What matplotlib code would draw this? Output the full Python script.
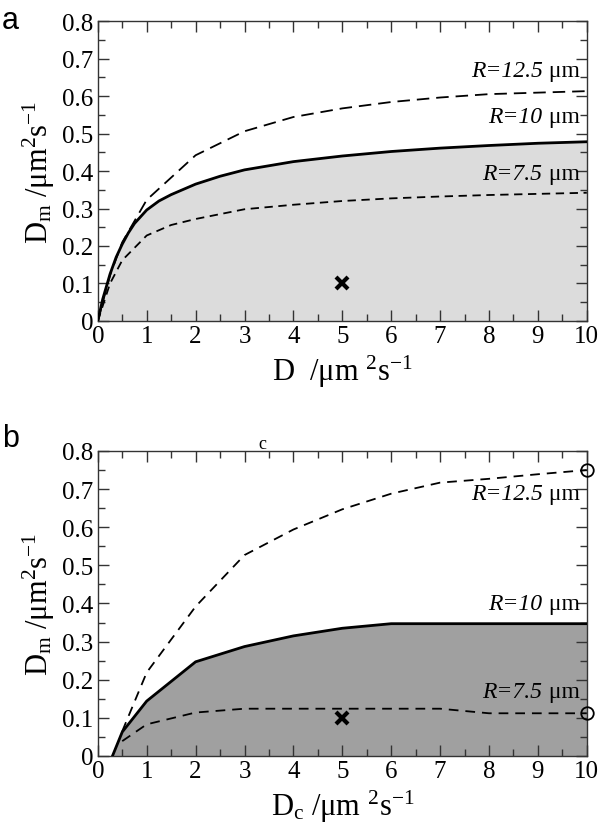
"""Two-panel D_m vs D phase diagram (panels a and b)."""

import matplotlib
matplotlib.use("Agg")
import matplotlib.pyplot as plt
from matplotlib.ticker import MultipleLocator

SERIF = ["Liberation Serif", "DejaVu Serif"]

matplotlib.rcParams.update({
    "font.family": SERIF,
    "mathtext.fontset": "custom",
    "mathtext.rm": "Liberation Serif",
    "mathtext.it": "Liberation Serif:italic",
    "axes.linewidth": 1.0,
    "lines.scale_dashes": False,
})

# ---------------------------------------------------------------------------
# data
# ---------------------------------------------------------------------------
# panel a (smooth curves)
a_D = [0, 0.1, 0.25, 0.375, 0.5, 0.625, 0.75, 1, 1.25, 1.5, 2, 2.5, 3,
       4, 5, 6, 7, 8, 9, 10]
a_R10 = [0, 0.058, 0.125, 0.17, 0.205, 0.235, 0.26, 0.296, 0.32, 0.337,
         0.365, 0.386, 0.403, 0.425, 0.44, 0.452, 0.461, 0.468, 0.474, 0.478]

a_R125_D = [0, 0.25, 0.5, 1, 2, 3, 4, 5, 6, 7, 8, 9, 10]
a_R125 = [0, 0.122, 0.21, 0.323, 0.442, 0.506, 0.544, 0.567, 0.584,
          0.596, 0.605, 0.609, 0.613]

a_R75_D = [0, 0.25, 0.5, 1, 1.5, 2, 2.5, 3, 4, 5, 6, 7, 8, 9, 10]
a_R75 = [0, 0.1, 0.162, 0.228, 0.256, 0.272, 0.285, 0.298, 0.31, 0.32, 0.327,
         0.332, 0.336, 0.339, 0.342]

# panel b (piecewise)
b_R10_D = [0.3, 0.5, 1, 2, 3, 4, 5, 6, 7, 8, 9, 10]
b_R10 = [0, 0.063, 0.144, 0.247, 0.287, 0.315, 0.335, 0.347, 0.347,
         0.347, 0.347, 0.347]

b_R125_D = [0.5, 1, 2, 3, 4, 5, 6, 7, 8, 9, 10]
b_R125 = [0.065, 0.219, 0.392, 0.527, 0.594, 0.647, 0.688, 0.717,
          0.727, 0.739, 0.75]

b_R75_D = [0.5, 1, 2, 3, 4, 5, 6, 7, 8, 9, 10]
b_R75 = [0.039, 0.083, 0.114, 0.124, 0.124, 0.124, 0.124, 0.124,
         0.112, 0.112, 0.112]

cross_pt = (5, 0.1)
b_open_D = [10, 10]
b_open_Dm = [0.75, 0.112]

r_values = ["12.5", "10", "7.5"]
a_label_y = [0.668, 0.545, 0.393]
b_label_y = [0.688, 0.40, 0.17]

x_ticks = [0, 1, 2, 3, 4, 5, 6, 7, 8, 9, 10]
y_ticks = [0, 0.1, 0.2, 0.3, 0.4, 0.5, 0.6, 0.7, 0.8]
y_ticklabels = ["0", "0.1", "0.2", "0.3", "0.4", "0.5", "0.6", "0.7", "0.8"]

YLABEL = r"D$_\mathregular{m}$ /μm$^\mathregular{2}$s$^\mathregular{-1}$"


def r_label(ax, y, val):
    um = ax.text(9.85, y, " μm", ha="right", va="center", fontsize=17,
                 family=SERIF, zorder=5)
    ax.annotate(f"R={val}", xy=(0, 0.5), xycoords=um, ha="right", va="center",
                fontsize=17, family=SERIF, style="italic", zorder=5)


def style_axes(ax):
    ax.set_xlim(0, 10)
    ax.set_ylim(0, 0.8)
    ax.set_xticks(x_ticks)
    ax.set_xticklabels([str(t) for t in x_ticks], family=SERIF)
    ax.set_yticks(y_ticks)
    ax.set_yticklabels(y_ticklabels, family=SERIF)
    ax.xaxis.set_minor_locator(MultipleLocator(0.5))
    ax.yaxis.set_minor_locator(MultipleLocator(0.05))
    ax.tick_params(which="both", direction="in", top=True, right=True,
                   labelsize=18, width=1.0, color="#333333", pad=3)
    ax.tick_params(which="major", length=8)
    ax.tick_params(which="minor", length=5)
    for s in ax.spines.values():
        s.set_color("#333333")
    ax.set_ylabel(YLABEL, fontsize=22, labelpad=4)


def panel_a(ax):
    ax.fill_between(a_D, 0, a_R10, color="#dcdcdc", lw=0, zorder=1)
    ax.plot(a_D, a_R10, "-", color="black", lw=2.0, zorder=3)
    ax.plot(a_R125_D, a_R125, color="black", lw=1.3, dashes=(9, 5), zorder=3)
    ax.plot(a_R75_D, a_R75, color="black", lw=1.3, dashes=(6, 4), zorder=3)
    ax.plot(*cross_pt, marker="x", color="black", ms=8, mew=3, zorder=4)
    for val, y in zip(r_values, a_label_y):
        r_label(ax, y, val)
    style_axes(ax)
    ax.set_xlabel(r"D  /μm $^\mathregular{2}$s$^\mathregular{-1}$", fontsize=22, labelpad=4)


def panel_b(ax):
    ax.fill_between(b_R10_D, 0, b_R10, color="#a0a0a0", lw=0, zorder=1)
    ax.plot(b_R10_D, b_R10, "-", color="black", lw=2.0, zorder=3)
    ax.plot(b_R125_D, b_R125, color="black", lw=1.3, dashes=(7, 5), zorder=3)
    ax.plot(b_R75_D, b_R75, color="black", lw=1.3, dashes=(7, 5), zorder=3)
    ax.plot(*cross_pt, marker="x", color="black", ms=8, mew=3, zorder=4)
    ax.plot(b_open_D, b_open_Dm, "o", ms=9, mfc="none", mec="black", mew=1.3,
            clip_on=False, zorder=5)
    for val, y in zip(r_values, b_label_y):
        r_label(ax, y, val)
    style_axes(ax)
    ax.set_xlabel(r"D$_\mathregular{c}$ /μm $^\mathregular{2}$s$^\mathregular{-1}$", fontsize=22, labelpad=4)


def main():
    fig = plt.figure(figsize=(6, 8.37), dpi=100)
    ax_a = fig.add_axes([0.163, 0.6153, 0.815, 0.3584])
    ax_b = fig.add_axes([0.163, 0.0956, 0.815, 0.3644])
    panel_a(ax_a)
    panel_b(ax_b)

    fig.text(0.003, 0.975, "a", fontsize=22, family="Liberation Sans", va="center")
    fig.text(0.003, 0.476, "b", fontsize=22, family="Liberation Sans", va="center")
    fig.text(262 / 600, 1 - 445 / 837, "c", fontsize=13, ha="center", va="center")

    fig.savefig("out.png", dpi=100)
    plt.close(fig)


if __name__ == "__main__":
    main()
